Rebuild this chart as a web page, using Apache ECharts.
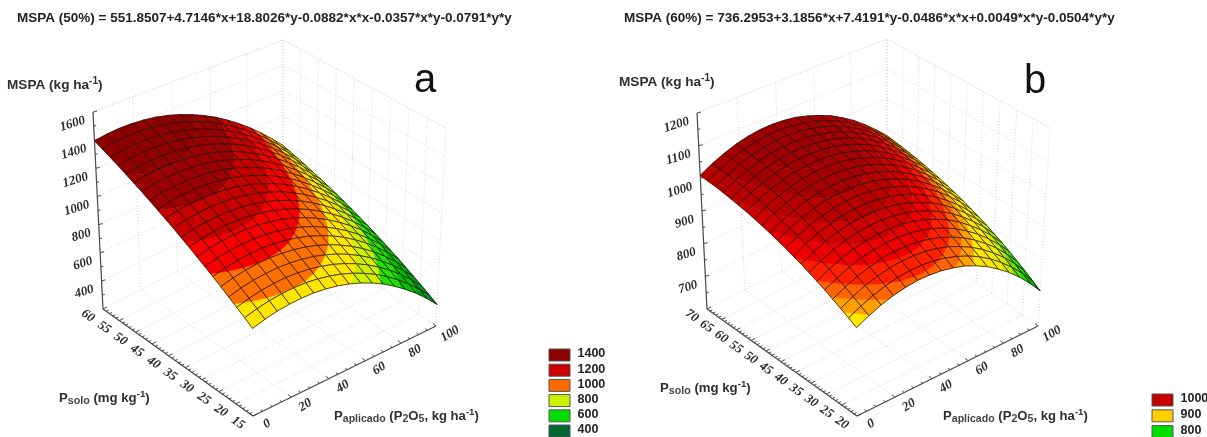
<!DOCTYPE html>
<html><head><meta charset="utf-8">
<style>html,body{margin:0;padding:0;background:#fff}#c{width:1207px;height:437px}</style>
<script src="https://cdn.jsdelivr.net/npm/echarts@6/dist/echarts.min.js"></script></head>
<body><div id="c"></div>
<script>
// ---------- data ----------
const pAplicado=[0,6.25,12.5,18.75,25,31.25,37.5,43.75,50,56.25,62.5,68.75,75,81.25,87.5,93.75,100];
const pSoloA=[15,17.25,19.5,21.75,24,26.25,28.5,30.75,33,35.25,37.5,39.75,42,44.25,46.5,48.75,51,53.25,55.5,57.75,60];
const pSoloB=[20,22.5,25,27.5,30,32.5,35,37.5,40,42.5,45,47.5,50,52.5,55,57.5,60,62.5,65,67.5,70];
const zA=[
[816,839,855,863,865,861,849,830,805,772,733,687,633,573,507,433,352],
[853,875,890,898,900,895,882,863,837,804,764,718,664,603,536,462,381],
[888,910,925,933,934,928,915,895,869,835,795,748,694,633,565,490,408],
[923,945,959,966,967,960,947,927,900,866,825,777,723,661,593,517,435],
[958,978,992,999,999,992,978,958,930,896,854,806,751,689,620,544,461],
[991,1011,1024,1031,1030,1023,1009,987,959,924,883,834,778,716,646,570,487],
[1023,1043,1056,1062,1061,1053,1038,1016,988,952,910,861,805,742,672,595,511],
[1055,1074,1087,1092,1091,1082,1067,1045,1016,980,937,887,830,767,697,619,535],
[1086,1105,1117,1122,1119,1111,1095,1072,1043,1006,963,912,855,791,720,643,558],
[1116,1135,1146,1150,1148,1138,1122,1099,1069,1032,988,937,880,815,744,665,580],
[1146,1163,1174,1178,1175,1165,1148,1125,1094,1057,1012,961,903,838,766,687,601],
[1174,1192,1202,1205,1202,1191,1174,1150,1119,1081,1036,984,925,860,787,708,622],
[1202,1219,1229,1231,1227,1216,1199,1174,1142,1104,1059,1006,947,881,808,728,642],
[1229,1245,1254,1257,1252,1241,1223,1197,1165,1126,1080,1028,968,902,828,748,661],
[1255,1271,1280,1281,1276,1265,1246,1220,1187,1148,1102,1048,988,921,847,766,679],
[1280,1296,1304,1305,1300,1287,1268,1242,1209,1169,1122,1068,1007,940,866,784,696],
[1305,1320,1328,1328,1322,1309,1290,1263,1229,1189,1141,1087,1026,958,883,801,712],
[1329,1343,1350,1351,1344,1331,1310,1283,1249,1208,1160,1105,1044,975,900,817,728],
[1352,1365,1372,1372,1365,1351,1330,1303,1268,1226,1178,1123,1061,992,916,833,743],
[1374,1387,1393,1393,1385,1371,1349,1321,1286,1244,1195,1139,1077,1007,931,847,757],
[1395,1408,1414,1412,1404,1390,1368,1339,1303,1261,1212,1155,1092,1022,945,861,771]];
const zB=[
[865,883,898,909,916,920,919,915,907,896,880,861,837,811,780,745,707],
[878,896,911,922,930,933,933,929,921,909,894,875,852,825,794,760,721],
[890,909,924,935,943,946,946,942,934,923,907,888,865,838,808,773,735],
[902,921,936,947,955,959,958,955,947,935,920,901,878,851,821,786,748],
[914,932,948,959,966,970,970,966,959,947,932,913,890,864,833,799,761],
[924,943,958,970,977,981,981,978,970,959,943,925,902,875,845,811,773],
[934,953,969,980,988,992,992,988,981,969,954,935,913,886,856,822,784],
[944,963,978,990,998,1002,1002,998,991,980,964,946,923,897,866,832,795],
[952,972,987,999,1007,1011,1011,1007,1000,989,974,955,933,906,876,842,805],
[961,980,995,1007,1015,1019,1020,1016,1009,998,983,964,942,916,886,852,814],
[968,987,1003,1015,1023,1027,1028,1024,1017,1006,991,973,950,924,894,860,823],
[975,994,1010,1022,1030,1034,1035,1032,1024,1014,999,980,958,932,902,868,831],
[981,1001,1017,1029,1037,1041,1042,1038,1031,1021,1006,987,965,939,909,876,838],
[987,1007,1022,1034,1043,1047,1048,1045,1038,1027,1012,994,972,946,916,883,845],
[992,1012,1028,1040,1048,1052,1053,1050,1043,1033,1018,1000,978,952,922,889,851],
[996,1016,1032,1044,1053,1057,1058,1055,1048,1038,1023,1005,983,957,928,894,857],
[1000,1020,1036,1048,1057,1061,1062,1059,1053,1042,1028,1010,988,962,932,899,862],
[1003,1023,1039,1052,1060,1065,1066,1063,1056,1046,1032,1014,992,966,937,903,866],
[1006,1026,1042,1054,1063,1068,1069,1066,1059,1049,1035,1017,995,970,940,907,870],
[1007,1028,1044,1056,1065,1070,1071,1068,1062,1052,1037,1020,998,972,943,910,873],
[1009,1029,1045,1058,1067,1072,1073,1070,1064,1053,1039,1022,1000,975,945,912,876]];
const xTicks=[0,20,40,60,80,100];
const yTicksA=[15,20,25,30,35,40,45,50,55,60];
const yTicksB=[20,25,30,35,40,45,50,55,60,65,70];
const zTicksA=[400,600,800,1000,1200,1400,1600];
const zTicksB=[700,800,900,1000,1100,1200];
const breaksA=[400,500,600,700,800,900,1000,1100,1200,1300];
const coloursA=['#006633','#009a1a','#00c000','#22e000','#ccf000','#ffe600','#ff7000','#f80000','#c80000','#9c0000','#900000'];
const breaksB=[725,750,775,800,825,850,885,905,925,950,975,1000,1025,1050];
const coloursB=['#007020','#00b000','#20dd00','#70e000','#c8ee00','#f0ee00','#ffe600','#ffa000','#ff6400','#ff2000','#ee0000','#d00000','#b80000','#a80000','#a00000'];
const legendLabelsA=['1400','1200','1000','800','600','400'];
const legendColoursA=['#8b0000','#cc0000','#ff6a00','#c8f000','#00dd00','#006633'];
const legendLabelsB=['1000','900','800'];
const legendColoursB=['#c40000','#ffd000','#00dd00'];

// ---------- layout ----------
const panelA={xs:pAplicado,ys:pSoloA,zs:zA,xr:[0,100],yr:[15,60],zr:[200,1600],xTicks,yTicks:yTicksA,zTicks:zTicksA,breaks:breaksA,colours:coloursA,
 c:{p000:[253,416],p010:[103,309],p100:[436,326],p110:[283,218],p001:[252,217],p011:[93,112],p101:[446,128],p111:[283,40]}};
const panelB={xs:pAplicado,ys:pSoloB,zs:zB,xr:[0,100],yr:[20,70],zr:[600,1200],xTicks,yTicks:yTicksB,zTicks:zTicksB,breaks:breaksB,colours:coloursB,
 c:{p000:[857,416],p010:[707,309],p100:[1038,326],p110:[887,218],p001:[856,216],p011:[697,113],p101:[1050,128],p111:[887,39]}};
const KU=1.06,KV=1.03; // foreshortening along the two floor axes

function lerp(a,b,t){return [a[0]+(b[0]-a[0])*t,a[1]+(b[1]-a[1])*t];}
function persp(t,k){return t*k/(1+(k-1)*t);}
function proj(P,x,y,z){
 const u=persp((x-P.xr[0])/(P.xr[1]-P.xr[0]),KU),v=persp((y-P.yr[0])/(P.yr[1]-P.yr[0]),KV),w=(z-P.zr[0])/(P.zr[1]-P.zr[0]);
 const c=P.c;
 const lo=lerp(lerp(c.p000,c.p100,u),lerp(c.p010,c.p110,u),v);
 const hi=lerp(lerp(c.p001,c.p101,u),lerp(c.p011,c.p111,u),v);
 return lerp(lo,hi,w);
}
function clip(poly,level,keepAbove){
 const out=[];
 for(let k=0;k<poly.length;k++){
  const a=poly[k],b=poly[(k+1)%poly.length];
  const ina=keepAbove?a[2]>=level:a[2]<=level, inb=keepAbove?b[2]>=level:b[2]<=level;
  if(ina) out.push(a);
  if(ina!==inb){const t=(level-a[2])/(b[2]-a[2]);out.push([a[0]+(b[0]-a[0])*t,a[1]+(b[1]-a[1])*t,level]);}
 }
 return out;
}
function surfaceSeries(P){
 const data=[];
 for(let j=P.ys.length-2;j>=0;j--)for(let i=P.xs.length-2;i>=0;i--)data.push([i,j]);
 return {type:'custom',coordinateSystem:'cartesian2d',data,silent:true,animation:false,progressive:0,z:5,encode:{x:0,y:1},
  renderItem(params,api){
   const i=api.value(0),j=api.value(1);
   const pt=(a,b)=>[P.xs[a],P.ys[b],P.zs[b][a]];
   const quad=[pt(i,j),pt(i+1,j),pt(i+1,j+1),pt(i,j+1)];
   const toPx=q=>api.coord(proj(P,q[0],q[1],q[2]));
   const children=[];
   for(let b=0;b<P.colours.length;b++){
    let poly=quad;
    if(b>0)poly=clip(poly,P.breaks[b-1],true);
    if(b<P.breaks.length&&poly.length)poly=clip(poly,P.breaks[b],false);
    if(poly.length>=3)children.push({type:'polygon',shape:{points:poly.map(toPx)},style:{fill:P.colours[b],stroke:P.colours[b],lineWidth:0.5}});
   }
   children.push({type:'polygon',shape:{points:quad.map(toPx)},style:{fill:'none',stroke:'rgba(35,20,12,0.85)',lineWidth:0.9}});
   return {type:'group',children};
  }};
}
function frameSeries(P){
 const seg=[],txt=[];
 const [x0,x1]=P.xr,[y0,y1]=P.yr,[z0,z1]=P.zr;
 const grid={stroke:'#d8d8d8',lineWidth:1,lineDash:[1,2]};
 const axis={stroke:'#4a4a4a',lineWidth:1.2};
 const tick={stroke:'#4a4a4a',lineWidth:1};
 P.xTicks.forEach(x=>{
  seg.push([proj(P,x,y0,z0),proj(P,x,y1,z0),grid]);
  seg.push([proj(P,x,y1,z0),proj(P,x,y1,z1),grid]);
 });
 P.yTicks.forEach(y=>{
  seg.push([proj(P,x0,y,z0),proj(P,x1,y,z0),grid]);
  seg.push([proj(P,x1,y,z0),proj(P,x1,y,z1),grid]);
 });
 P.zTicks.forEach(z=>{
  seg.push([proj(P,x0,y1,z),proj(P,x1,y1,z),grid]);
  seg.push([proj(P,x1,y1,z),proj(P,x1,y0,z),grid]);
 });
 seg.push([proj(P,x0,y1,z1),proj(P,x1,y1,z1),grid]);
 seg.push([proj(P,x1,y1,z1),proj(P,x1,y0,z1),grid]);
 seg.push([proj(P,x0,y1,z0),proj(P,x0,y1,z1),axis]);
 seg.push([proj(P,x0,y1,z0),proj(P,x0,y0,z0),axis]);
 seg.push([proj(P,x0,y0,z0),proj(P,x1,y0,z0),axis]);
 const off=(p,dx,dy)=>[p[0]+dx,p[1]+dy];
 const zStep=P.zTicks[1]-P.zTicks[0];
 for(let z=z1;z>z0;z-=zStep/2){const p=proj(P,x0,y1,z);const major=P.zTicks.includes(z);seg.push([p,off(p,major?4:2.5,major?-1:-0.5),tick]);}
 P.zTicks.forEach(z=>{const p=proj(P,x0,y1,z);txt.push({p:[p[0]-8,p[1]+8],t:String(z),rot:0.3,align:'right'});});
 for(let y=y0;y<=y1;y+=1){const p=proj(P,x0,y,z0);const major=P.yTicks.includes(y);seg.push([p,off(p,major?4:2.5,major?-2:-1.2),tick]);}
 P.yTicks.forEach(y=>{const p=proj(P,x0,y,z0);txt.push({p:[p[0]-15,p[1]+7],t:String(y),rot:-0.6,align:'center'});});
 for(let x=x0;x<=x1;x+=5){const p=proj(P,x,y0,z0);const major=P.xTicks.includes(x);seg.push([p,off(p,major?-3:-2,major?-2.5:-1.5),tick]);}
 P.xTicks.forEach(x=>{const p=proj(P,x,y0,z0);txt.push({p:[p[0]+14,p[1]+8],t:String(x),rot:0.55,align:'center'});});
 const n=seg.length;
 const data=[];for(let k=0;k<n+txt.length;k++)data.push([k,0]);
 return {type:'custom',coordinateSystem:'cartesian2d',data,silent:true,animation:false,progressive:0,z:1,encode:{x:0,y:1},
  renderItem(params,api){
   const k=api.value(0);
   if(k<n){const s=seg[k],a=api.coord(s[0]),b=api.coord(s[1]);
    return {type:'line',shape:{x1:a[0],y1:a[1],x2:b[0],y2:b[1]},style:Object.assign({fill:null},s[2])};}
   const t=txt[k-n],c=api.coord(t.p);
   return {type:'text',x:c[0],y:c[1],rotation:t.rot,style:{text:t.t,font:'italic bold 13px "Liberation Serif"',fill:'#2a2a2a',align:t.align,verticalAlign:'middle'}};
  }};
}
const labelFont='"Liberation Sans"';
function rich(sz){return {
 n:{fontFamily:labelFont,fontWeight:'bold',fontSize:sz,fill:'#2e2e2e',lineHeight:18},
 u:{fontFamily:labelFont,fontWeight:'bold',fontSize:sz-3.5,fill:'#2e2e2e',verticalAlign:'top',lineHeight:18},
 d:{fontFamily:labelFont,fontWeight:'bold',fontSize:sz-2.5,fill:'#444',verticalAlign:'bottom',lineHeight:16}};}
function richText(x,y,text,sz){return {type:'text',left:x,top:y-9,silent:true,style:{text,rich:rich(sz),fontFamily:labelFont,fontWeight:'bold',fontSize:sz}};}
function plain(x,y,text,font,fill){return {type:'text',left:x,top:y,silent:true,style:{text,font,fill:fill||'#222'}};}
const g=[
 plain(17,11,'MSPA (50%) = 551.8507+4.7146*x+18.8026*y-0.0882*x*x-0.0357*x*y-0.0791*y*y','bold 13.5px "Liberation Sans"'),
 plain(624,11,'MSPA (60%) = 736.2953+3.1856*x+7.4191*y-0.0486*x*x+0.0049*x*y-0.0504*y*y','bold 13.5px "Liberation Sans"'),
 plain(414,61,'a','40px "Liberation Sans"','#111'),
 plain(1024,62,'b','40px "Liberation Sans"','#111'),
 richText(7,85,'{n|MSPA (kg ha}{u|-1}{n|)}',13.6),
 richText(619,82,'{n|MSPA (kg ha}{u|-1}{n|)}',13.6),
 richText(59,398,'{n|P}{d|solo}{n| (mg kg}{u|-1}{n|)}',13.2),
 richText(660,388,'{n|P}{d|solo}{n| (mg kg}{u|-1}{n|)}',13.2),
 richText(334,416,'{n|P}{d|aplicado}{n| (P}{d|2}{n|O}{d|5}{n|, kg ha}{u|-1}{n|)}',13.1),
 richText(943,416,'{n|P}{d|aplicado}{n| (P}{d|2}{n|O}{d|5}{n|, kg ha}{u|-1}{n|)}',13.1)
];
function legend(x,y0,step,labels,cols){
 labels.forEach((l,k)=>{
  const y=y0+k*step;
  g.push({type:'rect',left:x,top:y,shape:{width:21,height:12},silent:true,style:{fill:cols[k],stroke:'#555',lineWidth:1}});
  g.push(plain(x+29,y-1,l,'bold 12.5px "Liberation Sans"','#222'));
 });
}
legend(548.5,348.5,15.2,legendLabelsA,legendColoursA);
legend(1151.5,393.5,15.8,legendLabelsB,legendColoursB);

const chart=echarts.init(document.getElementById('c'),null,{renderer:'canvas'});
chart.setOption({
 animation:false,backgroundColor:'#fff',
 grid:{left:0,top:0,right:0,bottom:0},
 xAxis:{type:'value',min:0,max:1207,show:false},
 yAxis:{type:'value',min:0,max:437,inverse:true,show:false},
 graphic:g,
 series:[frameSeries(panelA),frameSeries(panelB),surfaceSeries(panelA),surfaceSeries(panelB)]
});
</script></body></html>
